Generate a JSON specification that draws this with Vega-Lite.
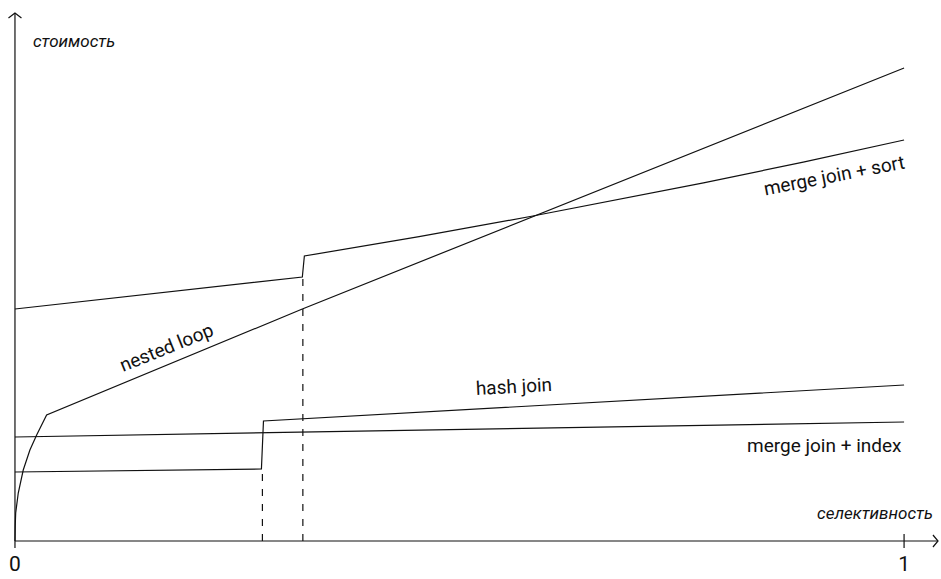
{
  "$schema": "https://vega.github.io/schema/vega-lite/v6.json",
  "width": 941,
  "height": 579,
  "autosize": {"type": "fit", "contains": "padding"},
  "padding": 0,
  "background": "white",
  "config": {"view": {"stroke": null}},
  "datasets": {
    "curves": [
      {"series": "merge join + sort", "ord": 1, "s": 0, "c": 232},
      {"series": "merge join + sort", "ord": 2, "s": 0.3232, "c": 264},
      {"series": "merge join + sort", "ord": 3, "s": 0.3255, "c": 285},
      {"series": "merge join + sort", "ord": 4, "s": 0.4545, "c": 304.3},
      {"series": "merge join + sort", "ord": 5, "s": 0.5825, "c": 325},
      {"series": "merge join + sort", "ord": 6, "s": 0.7744, "c": 358.1},
      {"series": "merge join + sort", "ord": 7, "s": 0.8866, "c": 378.9},
      {"series": "merge join + sort", "ord": 8, "s": 1, "c": 401},
      {"series": "nested loop", "ord": 1, "s": 0, "c": 0},
      {"series": "nested loop", "ord": 2, "s": 0.0003, "c": 15},
      {"series": "nested loop", "ord": 3, "s": 0.0008, "c": 28},
      {"series": "nested loop", "ord": 4, "s": 0.0037, "c": 48},
      {"series": "nested loop", "ord": 5, "s": 0.0093, "c": 71},
      {"series": "nested loop", "ord": 6, "s": 0.0168, "c": 91},
      {"series": "nested loop", "ord": 7, "s": 0.0244, "c": 106},
      {"series": "nested loop", "ord": 8, "s": 0.0356, "c": 126},
      {"series": "nested loop", "ord": 9, "s": 0.3232, "c": 232},
      {"series": "nested loop", "ord": 10, "s": 1, "c": 473},
      {"series": "hash join", "ord": 1, "s": 0, "c": 69},
      {"series": "hash join", "ord": 2, "s": 0.2772, "c": 72},
      {"series": "hash join", "ord": 3, "s": 0.2795, "c": 120},
      {"series": "hash join", "ord": 4, "s": 1, "c": 156},
      {"series": "merge join + index", "ord": 1, "s": 0, "c": 104},
      {"series": "merge join + index", "ord": 2, "s": 1, "c": 119},
      {"series": "y axis", "ord": 1, "s": 0, "c": -7},
      {"series": "y axis", "ord": 2, "s": 0, "c": 528},
      {"series": "x axis", "ord": 1, "s": 0, "c": 0},
      {"series": "x axis", "ord": 2, "s": 1.0382, "c": 0},
      {"series": "y arrow", "ord": 1, "s": -0.0073, "c": 523},
      {"series": "y arrow", "ord": 2, "s": 0, "c": 528},
      {"series": "y arrow", "ord": 3, "s": 0.0073, "c": 523},
      {"series": "x arrow", "ord": 1, "s": 1.0325, "c": 6},
      {"series": "x arrow", "ord": 2, "s": 1.0382, "c": 0},
      {"series": "x arrow", "ord": 3, "s": 1.0325, "c": -6},
      {"series": "tick 1", "ord": 1, "s": 1, "c": -7},
      {"series": "tick 1", "ord": 2, "s": 1, "c": 7}
    ],
    "dashes": [
      {"s": 0.2783, "c0": 0, "c1": 72},
      {"s": 0.3238, "c0": 0, "c1": 264}
    ],
    "labels": [
      {"id": "ylab", "text": "стоимость", "s": 0.0202, "c": 499},
      {"id": "xlab", "text": "селективность", "s": 1.0325, "c": 27},
      {"id": "zero", "text": "0", "s": 0, "c": -24},
      {"id": "one", "text": "1", "s": 1, "c": -24},
      {"id": "nl", "text": "nested loop", "s": 0.1706, "c": 193},
      {"id": "ms", "text": "merge join + sort", "s": 0.9214, "c": 365},
      {"id": "hj", "text": "hash join", "s": 0.5612, "c": 154},
      {"id": "mi", "text": "merge join + index", "s": 0.9102, "c": 95}
    ]
  },
  "layer": [
    {
      "data": {"name": "curves"},
      "mark": {"type": "line", "color": "#111111", "strokeWidth": 1.2},
      "encoding": {
        "x": {"field": "s", "type": "quantitative", "scale": {"domain": [-0.016835, 1.039282], "nice": false, "zero": false}, "axis": null},
        "y": {"field": "c", "type": "quantitative", "scale": {"domain": [-38, 541], "nice": false, "zero": false}, "axis": null},
        "detail": {"field": "series"},
        "order": {"field": "ord"}
      }
    },
    {
      "data": {"name": "dashes"},
      "mark": {"type": "rule", "color": "#111111", "strokeWidth": 1.2, "strokeDash": [7, 8]},
      "encoding": {
        "x": {"field": "s", "type": "quantitative", "scale": {"domain": [-0.016835, 1.039282], "nice": false, "zero": false}, "axis": null},
        "y": {"field": "c0", "type": "quantitative", "scale": {"domain": [-38, 541], "nice": false, "zero": false}, "axis": null},
        "y2": {"field": "c1"}
      }
    },
    {
      "data": {"name": "labels"},
      "transform": [{"filter": "datum.id == 'ylab'"}],
      "mark": {"type": "text", "align": "left", "baseline": "middle", "fontSize": 17, "fontStyle": "italic", "font": "Roboto", "color": "#111111"},
      "encoding": {
        "x": {"field": "s", "type": "quantitative", "scale": {"domain": [-0.016835, 1.039282], "nice": false, "zero": false}, "axis": null},
        "y": {"field": "c", "type": "quantitative", "scale": {"domain": [-38, 541], "nice": false, "zero": false}, "axis": null},
        "text": {"field": "text"}
      }
    },
    {
      "data": {"name": "labels"},
      "transform": [{"filter": "datum.id == 'xlab'"}],
      "mark": {"type": "text", "align": "right", "baseline": "middle", "fontSize": 17, "fontStyle": "italic", "font": "Roboto", "color": "#111111"},
      "encoding": {
        "x": {"field": "s", "type": "quantitative", "scale": {"domain": [-0.016835, 1.039282], "nice": false, "zero": false}, "axis": null},
        "y": {"field": "c", "type": "quantitative", "scale": {"domain": [-38, 541], "nice": false, "zero": false}, "axis": null},
        "text": {"field": "text"}
      }
    },
    {
      "data": {"name": "labels"},
      "transform": [{"filter": "datum.id == 'zero' || datum.id == 'one'"}],
      "mark": {"type": "text", "align": "center", "baseline": "middle", "fontSize": 21, "font": "Roboto", "color": "#111111"},
      "encoding": {
        "x": {"field": "s", "type": "quantitative", "scale": {"domain": [-0.016835, 1.039282], "nice": false, "zero": false}, "axis": null},
        "y": {"field": "c", "type": "quantitative", "scale": {"domain": [-38, 541], "nice": false, "zero": false}, "axis": null},
        "text": {"field": "text"}
      }
    },
    {
      "data": {"name": "labels"},
      "transform": [{"filter": "datum.id == 'mi'"}],
      "mark": {"type": "text", "align": "center", "baseline": "middle", "fontSize": 19, "font": "Roboto", "color": "#111111"},
      "encoding": {
        "x": {"field": "s", "type": "quantitative", "scale": {"domain": [-0.016835, 1.039282], "nice": false, "zero": false}, "axis": null},
        "y": {"field": "c", "type": "quantitative", "scale": {"domain": [-38, 541], "nice": false, "zero": false}, "axis": null},
        "text": {"field": "text"}
      }
    },
    {
      "data": {"name": "labels"},
      "transform": [{"filter": "datum.id == 'nl'"}],
      "mark": {"type": "text", "align": "center", "baseline": "middle", "fontSize": 19, "angle": 338, "font": "Roboto", "color": "#111111"},
      "encoding": {
        "x": {"field": "s", "type": "quantitative", "scale": {"domain": [-0.016835, 1.039282], "nice": false, "zero": false}, "axis": null},
        "y": {"field": "c", "type": "quantitative", "scale": {"domain": [-38, 541], "nice": false, "zero": false}, "axis": null},
        "text": {"field": "text"}
      }
    },
    {
      "data": {"name": "labels"},
      "transform": [{"filter": "datum.id == 'ms'"}],
      "mark": {"type": "text", "align": "center", "baseline": "middle", "fontSize": 19, "angle": 349, "font": "Roboto", "color": "#111111"},
      "encoding": {
        "x": {"field": "s", "type": "quantitative", "scale": {"domain": [-0.016835, 1.039282], "nice": false, "zero": false}, "axis": null},
        "y": {"field": "c", "type": "quantitative", "scale": {"domain": [-38, 541], "nice": false, "zero": false}, "axis": null},
        "text": {"field": "text"}
      }
    },
    {
      "data": {"name": "labels"},
      "transform": [{"filter": "datum.id == 'hj'"}],
      "mark": {"type": "text", "align": "center", "baseline": "middle", "fontSize": 19, "angle": 357, "font": "Roboto", "color": "#111111"},
      "encoding": {
        "x": {"field": "s", "type": "quantitative", "scale": {"domain": [-0.016835, 1.039282], "nice": false, "zero": false}, "axis": null},
        "y": {"field": "c", "type": "quantitative", "scale": {"domain": [-38, 541], "nice": false, "zero": false}, "axis": null},
        "text": {"field": "text"}
      }
    }
  ]
}
